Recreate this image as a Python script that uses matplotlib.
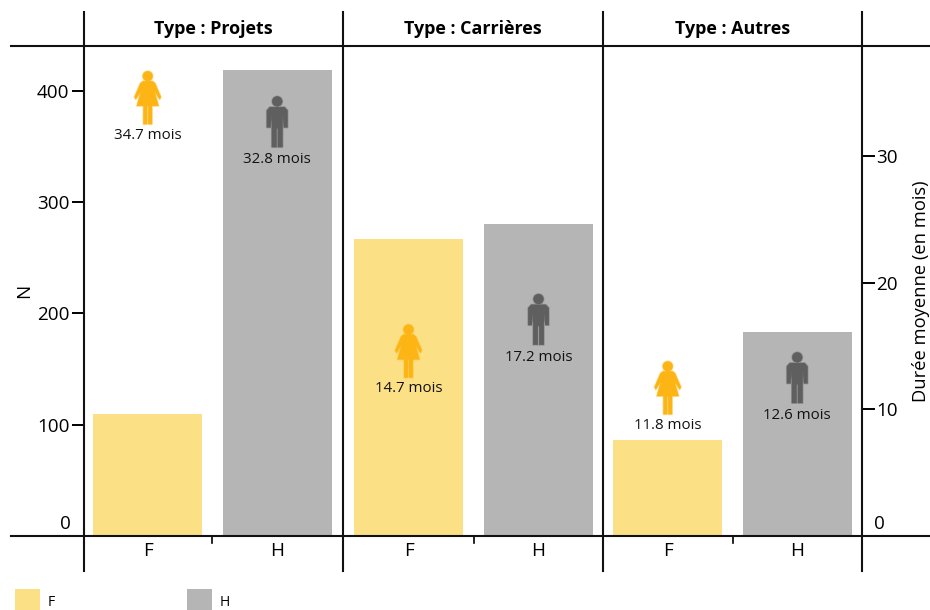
import matplotlib
matplotlib.use("Agg")
import matplotlib.pyplot as plt
import matplotlib.patheffects as pe
from matplotlib.lines import Line2D
from matplotlib.patches import Rectangle
from matplotlib.path import Path
from matplotlib.transforms import Affine2D

plt.rcParams['font.family'] = ['Open Sans', 'DejaVu Sans']

panels = ["Type : Projets", "Type : Carrières", "Type : Autres"]
genders = ["F", "H"]
counts_f = [110, 267, 86]
counts_h = [419, 280, 183]
months_f = [34.7, 14.7, 11.8]
months_h = [32.8, 17.2, 12.6]
n_ticks = [0, 100, 200, 300, 400]
month_ticks = [0, 10, 20, 30]

COL_F, COL_H = "#FBE085", "#B5B5B5"
ICON_F, ICON_H = "#FDB515", "#5F5F5F"
W, H = 930, 610


def compound(head_y, head_r, polys):
    parts = [Path.circle((0, head_y), head_r)]
    for p in polys:
        parts.append(Path(p + [p[0]], closed=True))
    return Path.make_compound_path(*parts).transformed(Affine2D().translate(0, -4))


woman = compound(65, 15, [
    [(-14, 50), (-22, 44), (-40, 2), (-36, -5), (-21, 18), (-33, -25), (33, -25),
     (21, 18), (36, -5), (40, 2), (22, 44), (14, 50)],
    [(-13, -25), (-13, -80), (-1.5, -80), (-1.5, -25)],
    [(1.5, -25), (1.5, -80), (13, -80), (13, -25)],
])
man = compound(61, 15, [
    [(-22, 44), (-31, 34), (-31, -17), (-20, -17), (-17, 20), (-16, -10), (-16, -76),
     (-2, -76), (-2, -20), (2, -20), (2, -76), (16, -76), (16, -10), (17, 20),
     (20, -17), (31, -17), (31, 34), (22, 44)],
])

fig = plt.figure(figsize=(W / 100, H / 100), dpi=100)
edges = [84, 343, 603, 862]
shift = [0.008, -0.004, 0.0]
top, base = 46, 536
lw = 1.5
n_max = (base - top) / 1.1125
m_max = (base - top) / 12.67
tick_fs, label_fs = 13.6, 10.8

for i, title in enumerate(panels):
    ax = fig.add_axes([edges[i] / W, 1 - base / H, (edges[i + 1] - edges[i]) / W, (base - top) / H])
    ax.bar([0, 1], [counts_f[i], counts_h[i]], width=0.84, color=[COL_F, COL_H], zorder=1)
    ax.set_xlim(-0.5 + shift[i], 1.5 + shift[i])
    ax.set_ylim(0, n_max)
    for s in ax.spines.values():
        s.set_visible(False)
    ax.set_xticks([0, 1], genders, fontsize=tick_fs)
    ax.tick_params(axis='x', length=0, pad=4)
    ax.patch.set_alpha(0)
    ax.plot([0.5, 0.5], [0, -7 / 1.1125], color='black', lw=1.2, clip_on=False)
    ax.text(0.5, (top - 29) / (base - top) + 1, title, transform=ax.transAxes, ha='center', va='center',
            fontsize=12.9, fontweight='bold')
    if i == 0:
        ax.set_yticks(n_ticks[1:], [str(v) for v in n_ticks[1:]], fontsize=tick_fs)
        ax.tick_params(axis='y', length=9, width=1.4, pad=1.5)
        ax.annotate(str(n_ticks[0]), xy=(0, 0), xycoords='axes fraction', xytext=(-13, 12),
                    textcoords='offset pixels', ha='right', va='center', fontsize=tick_fs)
        ax.set_ylabel("N", fontsize=tick_fs, labelpad=0)
        ax.yaxis.set_label_coords((33 - 84) / 259, 0.5)
    else:
        ax.set_yticks([])

    ax2 = ax.twinx()
    ax2.set_ylim(0, m_max)
    ax2.patch.set_alpha(0)
    for s in ax2.spines.values():
        s.set_visible(False)
    halo = lambda c: [pe.withStroke(linewidth=1.4, foreground=c, alpha=0.35)]
    ax2.plot([0], [months_f[i]], marker=woman, ms=40, color=ICON_F, mec=ICON_F, mew=0.2, ls='none',
             path_effects=halo(ICON_F))
    ax2.plot([1], [months_h[i]], marker=man, ms=38.4, color=ICON_H, mec=ICON_H, mew=0.2, ls='none',
             path_effects=halo(ICON_H))
    for x, m in ((0, months_f[i]), (1, months_h[i])):
        ax2.annotate(f"{m} mois", xy=(x, m), xytext=(0, -39), textcoords='offset pixels',
                     ha='center', va='center', fontsize=label_fs, color='#111111')
    if i == 2:
        ax2.set_yticks(month_ticks[1:], [str(v) for v in month_ticks[1:]], fontsize=tick_fs)
        ax2.tick_params(axis='y', length=9, width=1.4, pad=1.5)
        ax2.annotate(str(month_ticks[0]), xy=(1, 0), xycoords='axes fraction', xytext=(12, 12),
                     textcoords='offset pixels', ha='left', va='center', fontsize=tick_fs)
        ax2.set_ylabel("Durée moyenne (en mois)", fontsize=13.2)
        ax2.yaxis.set_label_coords((912 - 603) / 259, 0.5)
    else:
        ax2.set_yticks([])


def hline(y, x0, x1):
    fig.add_artist(Line2D([x0 / W, x1 / W], [1 - y / H, 1 - y / H], color='#111111', lw=lw))


def vline(x, y0, y1):
    fig.add_artist(Line2D([x / W, x / W], [1 - y0 / H, 1 - y1 / H], color='#111111', lw=lw))


hline(top, 11, W)
hline(base, 11, W)
for x in edges:
    vline(x, 12, 571)

for x0, col, lab in ((15, COL_F, genders[0]), (187, COL_H, genders[1])):
    fig.add_artist(Rectangle((x0 / W, 0), 25 / W, 21 / H, transform=fig.transFigure, color=col, lw=0))
    fig.text((x0 + 33) / W, 1 - 602.5 / H, lab, fontsize=10, ha='left', va='center')

fig.savefig("out.png", dpi=100)
